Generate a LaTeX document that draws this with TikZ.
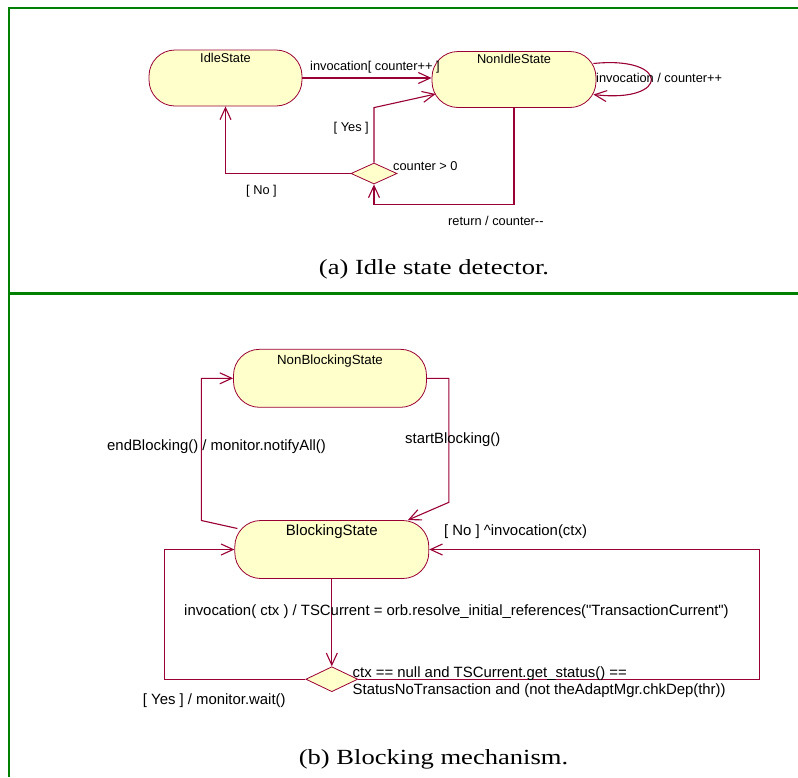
\documentclass[tikz,border=0pt]{standalone}
\usepackage{fontspec}
\usepackage{graphicx}
\setmainfont{Liberation Serif}
\newfontfamily\umlfont{Liberation Sans}
\usetikzlibrary{shapes.geometric,arrows.meta}

\definecolor{umlrot}{HTML}{990033}
\definecolor{umlgelb}{HTML}{FFFFCC}
\definecolor{rahmengruen}{HTML}{008000}

\begin{document}
\begin{tikzpicture}[x=1pt,y=-1pt,
  state/.style 2 args={draw=umlrot, fill=umlgelb, line width=0.8pt, rounded corners=26pt,
    inner xsep=0pt, inner ysep=2pt, text height=#1, text depth=#2,
    font=\umlfont\fontsize{12.8}{15}\selectfont},
  choice/.style={diamond, draw=umlrot, fill=umlgelb, line width=0.8pt, inner sep=0pt},
  conn/.style={draw=umlrot, line width=1.1pt, -{Straight Barb[length=12pt,width=11pt]}},
  lbl/.style={inner sep=0pt, anchor=base west, font=\umlfont\fontsize{12.8}{15}\selectfont},
  lblb/.style={lbl, font=\umlfont\fontsize{14.9}{17.3}\selectfont},
  figcaption/.style={inner sep=0pt, anchor=base, font=\fontsize{21.6}{26}\selectfont}]

  \useasboundingbox (0,0) rectangle (798,777);
  \draw[rahmengruen, line width=2.2pt] (798,8) -- (9,8) -- (9,777);  %Rahmen oben und links
  \draw[rahmengruen, line width=2.2pt] (9,293.5) -- (798,293.5);     %Trennlinie

  %% (a) Idle state detector
  \node[state={10.3pt}{41.7pt}, minimum width=153pt] (idle) at (225.5,78) {IdleState};
  \node[state={10.3pt}{41.7pt}, minimum width=164pt] (nonidle) at (514,79.5) {NonIdleState};
  \node[choice, minimum width=46pt, minimum height=21pt] (dec1) at (374,173.5) {};

  \draw[conn] (idle.east) -- (idle.east -| nonidle.west);  %invocation
  \draw[conn] (dec1.north) -- ++(0,-55) -- ([xshift=4pt,yshift=-14.5pt]nonidle.west);  %Yes
  \draw[conn] (dec1.west) -| (idle.south);  %No
  \draw[conn] (nonidle.south) -- ++(0,97) -| (dec1.south);  %return
  \draw[conn] ([xshift=-3pt,yshift=16pt]nonidle.east)
    .. controls ([xshift=74pt,yshift=24pt]nonidle.east) and ([xshift=74pt,yshift=-24pt]nonidle.east)
    .. ([xshift=-3pt,yshift=-15pt]nonidle.east);  %Schleife

  \node[lbl] (lblinv) at (310,70) {invocation[ counter++ ]};
  \node[lbl] (lblloop) at (596,82.3) {invocation / counter++};
  \node[lbl, anchor=base east] (lblyes) at (369,131) {[ Yes ]};
  \node[lbl] (lblguard) at (393,170) {counter > 0};
  \node[lbl] (lblno) at (246,194.3) {[ No ]};
  \node[lbl] (lblret) at (448,225) {return / counter-\kern0pt-};

  \node[figcaption] (capa) at (434,274) {\scalebox{1.23}[1]{(a) Idle state detector.}};

  %% (b) Blocking mechanism
  \node[state={13pt}{41pt}, minimum width=193pt, font=\umlfont\fontsize{13.3}{15}\selectfont] (nonblock) at (330,378.3) {NonBlockingState};
  \node[state={13pt}{41pt}, minimum width=194pt, font=\umlfont\fontsize{15}{17}\selectfont] (block) at (331.8,549.5) {BlockingState};
  \node[choice, minimum width=52pt, minimum height=25pt] (dec2) at (331.8,679.2) {};

  \draw[conn] ([xshift=3pt,yshift=21pt]block.west) -- ++(-36,-8) |- (nonblock.west);  %endBlocking
  \draw[conn] (nonblock.east) -- ++(22,0) -- ++(0,124) -- ([xshift=76pt]block.north);  %startBlocking
  \draw[conn] (block.south) -- (dec2.north);  %invocation
  \draw[conn] (dec2.west) -- ++(-141,0) |- (block.west);  %Yes
  \draw[conn] (dec2.east) -- ++(401,0) |- (block.east);  %No

  \node[lblb] (lblend) at (107,450.7) {endBlocking() / monitor.notifyAll()};
  \node[lblb] (lblstart) at (405,443.3) {startBlocking()};
  \node[lblb] (lblnob) at (444,535) {[ No ] \textasciicircum invocation(ctx)};
  \node[lblb] (lblinvb) at (184,615.7)
    {invocation( ctx ) / TSCurrent = orb.resolve\_initial\_references(\textquotedbl TransactionCurrent\textquotedbl)};
  \node[lblb, anchor=north west, align=left] (lblcond) at (352.5,666)
    {ctx == null and TSCurrent.get\_status() ==\\StatusNoTransaction and (not theAdaptMgr.chkDep(thr))};
  \node[lblb] (lblyesb) at (142.7,704) {[ Yes ] / monitor.wait()};

  \node[figcaption] (capb) at (433.5,764) {\scalebox{1.23}[1]{(b) Blocking mechanism.}};
\end{tikzpicture}
\end{document}
